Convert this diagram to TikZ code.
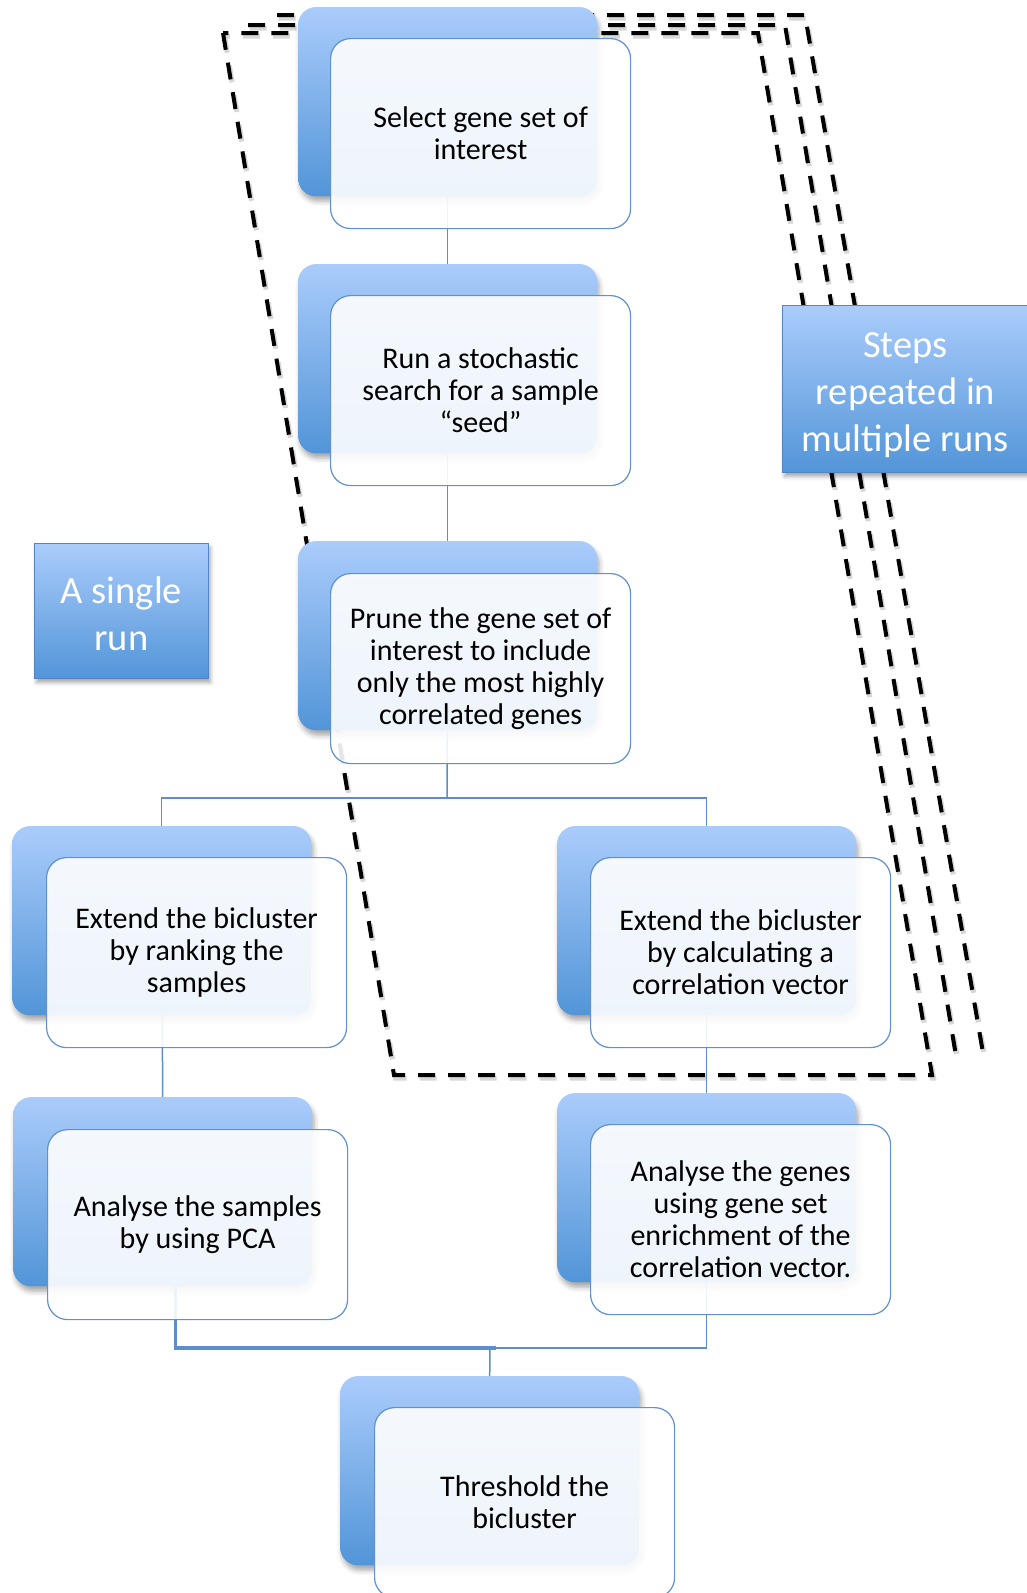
\documentclass[tikz,border=0pt]{standalone}
\usepackage{fontspec}
\setmainfont{Carlito}
\usetikzlibrary{shadows.blur}

\definecolor{boxtop}{RGB}{170,204,251}
\definecolor{boxbot}{RGB}{82,149,216}
\definecolor{frontline}{RGB}{96,144,206}
\definecolor{connline}{RGB}{92,142,202}
\definecolor{tagline}{RGB}{84,132,194}

\tikzset{
  backbox/.style={rounded corners=18pt, minimum width=299pt, minimum height=189pt,
    anchor=north west, inner sep=0pt, top color=boxtop, bottom color=boxbot,
    blur shadow={shadow xshift=2pt, shadow yshift=-5pt, shadow opacity=35, shadow blur radius=5pt}},
  backplain/.style={rounded corners=18pt, minimum width=299pt, minimum height=189pt,
    anchor=north west, inner sep=0pt, top color=boxtop, bottom color=boxbot},
  frontbox/.style={rounded corners=20pt, minimum width=300pt, minimum height=190pt,
    anchor=north west, inner sep=0pt, fill=white, fill opacity=0.9, text opacity=1,
    draw=frontline, line width=1.2pt, align=center, text=black,
    font=\fontsize{30pt}{32pt}\selectfont},
  tagbox/.style={anchor=north west, inner sep=0pt, top color=boxtop, bottom color=boxbot,
    draw=tagline, line width=1pt, align=center, text=white,
    font=\fontsize{38.5pt}{47pt}\selectfont,
    blur shadow={shadow xshift=2pt, shadow yshift=-4pt, shadow opacity=35, shadow blur radius=4pt}},
  conn/.style={draw=connline, line width=1.5pt},
  connthick/.style={draw=connline, line width=3.2pt},
  runedge/.style={black, line width=4pt, dash pattern=on 17pt off 13pt},
  runshadow/.style={black!45, opacity=0.35, line width=5pt, dash pattern=on 17pt off 13pt}
}

\begin{document}
\begin{tikzpicture}[x=1pt, y=-1pt]
\useasboundingbox (0,0) rectangle (1026,1593);

% outlines of the repeated runs (drawn first, boxes sit on top)
\begin{scope}[shift={(1.5,3)}]
  \draw[runshadow] (223,33) -- (394,1075) -- (932,1075) -- (758,33) -- cycle;
  \draw[runshadow] (248,25) -- (785,25) -- (957,1062);
  \draw[runshadow] (277,15) -- (805,15) -- (983,1053);
\end{scope}
\draw[runedge] (277,15) -- (805,15) -- (983,1053);
\draw[runedge] (248,25) -- (785,25) -- (957,1062);
\draw[runedge] (223,33) -- (394,1075) -- (932,1075) -- (758,33) -- cycle;

% back boxes
\node[backbox] (b1) at (298,7) {};
\node[backbox] (b2) at (298,264) {};
\node[backbox] (b3) at (298,541) {};
\node[backbox] (b4) at (12,826) {};
\node[backbox] (b5) at (557,826) {};
\node[backbox] (b6) at (13,1097) {};
\node[backbox] (b7) at (557,1093) {};
\node[backbox] (b8) at (340,1376) {};

% connectors
\coordinate (split) at (447,798);
\coordinate (join) at (490,1348);
\draw[conn] (b1.center) -- (b2.north);
\draw[conn] (b2.center) -- (b3.north);
\draw[conn] (b3.center) -- (split);
\draw[conn] (split) -| (b4.north);
\draw[conn] (split) -| (b5.north);
\draw[conn] (b4.center) -- (b6.north);
\draw[conn] (b5.center) -- (b7.north);
\draw[connthick] ([xshift=13pt]b6.center) |- ([xshift=6pt]join);
\draw[conn] (b7.center) |- (join);
\draw[conn] (join) -- (b8.north);

% back boxes again, covering the connector ends
\foreach \x/\y in {298/7, 298/264, 298/541, 12/826, 557/826, 13/1097, 557/1093, 340/1376}
  \node[backplain] at (\x,\y) {};

% front boxes with the step texts
\node[frontbox] (f1) at (330,38)  {Select gene set of\\interest};
\node[frontbox] (f2) at (330,295) {Run a stochastic\\search for a sample\\“seed”};
\node[frontbox] (f3) at (330,573) {Prune the gene set of\\interest to include\\only the most highly\\correlated genes};
\node[frontbox] (f4) at (46,857)  {Extend the bicluster\\by ranking the\\samples};
\node[frontbox] (f5) at (590,857) {Extend the bicluster\\by calculating a\\correlation vector};
\node[frontbox] (f6) at (47,1129) {Analyse the samples\\by using PCA};
\node[frontbox] (f7) at (590,1124) {Analyse the genes\\using gene set\\enrichment of the\\correlation vector.};
\node[frontbox] (f8) at (374,1407) {Threshold the\\bicluster};

% labels (a strut on the first line sets the text a little lower)
\node[tagbox, minimum width=174pt, minimum height=135pt] (single) at (34,543) {\rule{0pt}{33pt}A single\\run};
\node[tagbox, minimum width=246pt, minimum height=167pt] (steps) at (782,305) {\rule{0pt}{38pt}Steps\\repeated in\\multiple runs};
\end{tikzpicture}
\end{document}
